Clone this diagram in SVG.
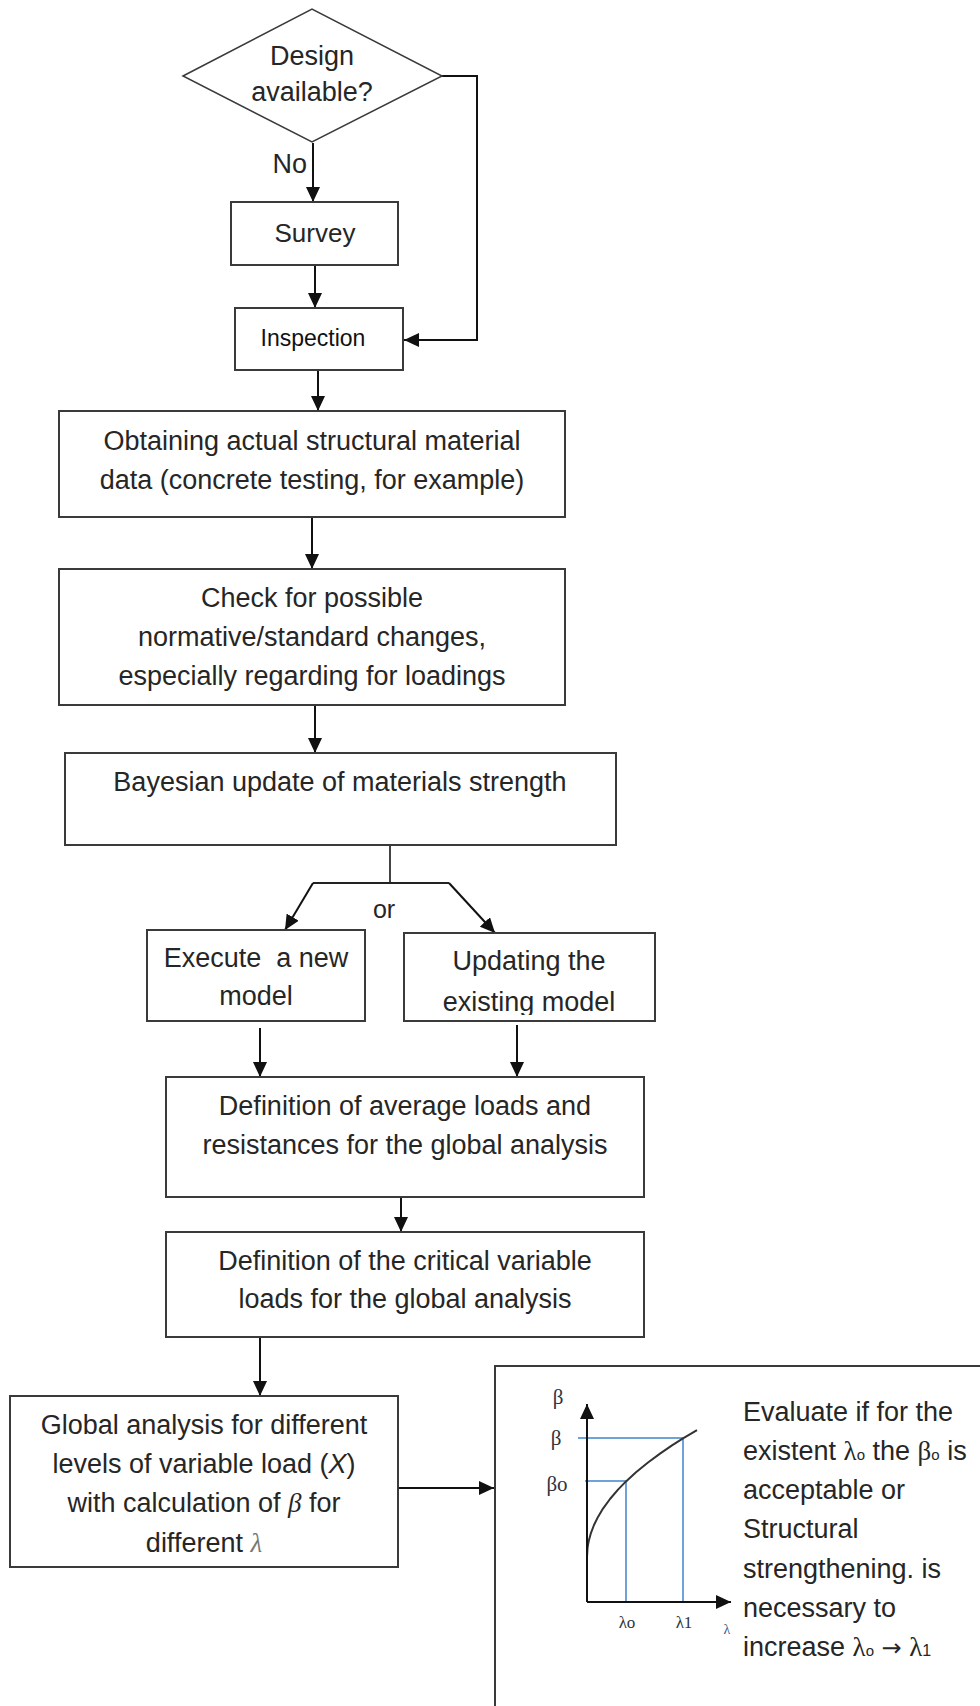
<svg xmlns="http://www.w3.org/2000/svg" width="980" height="1706" viewBox="0 0 980 1706">
<style>
.box{fill:#fff;stroke:#3a3a3a;stroke-width:2}
.con{fill:none;stroke:#111;stroke-width:2}
.blue{fill:none;stroke:#6fa3d8;stroke-width:2}
.t{font-family:"Liberation Sans",Arial,sans-serif;font-size:27px;fill:#262626;text-anchor:middle}
.tl{font-family:"Liberation Sans",Arial,sans-serif;font-size:27px;fill:#262626}
.g{font-family:"Liberation Serif","Times New Roman",serif}
.lab{font-family:"Liberation Serif","Times New Roman",serif;font-size:17px;fill:#2e3440;text-anchor:middle}
</style>
<defs>
<marker id="ah" markerUnits="userSpaceOnUse" markerWidth="16" markerHeight="14" refX="15" refY="7" orient="auto">
<path d="M0,0 L15,7 L0,14 z" fill="#111"/>
</marker>
<clipPath id="clipUpd"><rect x="404" y="933" width="251" height="82"/></clipPath>
</defs>
<rect width="980" height="1706" fill="#fff"/>

<g id="connectors">
<path class="con" d="M313,143 V202" marker-end="url(#ah)"/>
<path class="con" d="M442,76 H477 V340 H404" marker-end="url(#ah)"/>
<path class="con" d="M315,265 V308" marker-end="url(#ah)"/>
<path class="con" d="M318,370 V411" marker-end="url(#ah)"/>
<path class="con" d="M312,517 V569" marker-end="url(#ah)"/>
<path class="con" d="M315,705 V753" marker-end="url(#ah)"/>
<path class="con" style="stroke:#444" d="M390,845 V883"/>
<path class="con" style="stroke:#222" d="M449,883 H313"/>
<path class="con" d="M313,883 L285,930" marker-end="url(#ah)"/>
<path class="con" d="M449,883 L495,933" marker-end="url(#ah)"/>
<path class="con" d="M260,1028 V1077" marker-end="url(#ah)"/>
<path class="con" d="M517,1025 V1077" marker-end="url(#ah)"/>
<path class="con" d="M401,1197 V1232" marker-end="url(#ah)"/>
<path class="con" d="M260,1337 V1396" marker-end="url(#ah)"/>
<path class="con" d="M398,1488 H494" marker-end="url(#ah)"/>
</g>

<g id="n-design">
<polygon points="183,76 312,9 442,76 312,142" fill="#fff" stroke="#3a3a3a" stroke-width="1.5"/>
<text class="t" x="312" y="65" font-size="23">Design</text>
<text class="t" x="312" y="101" font-size="23">available?</text>
<text class="t" x="307" y="173" font-size="23" text-anchor="end" style="text-anchor:end">No</text>
</g>

<g id="n-survey">
<rect class="box" x="231" y="202" width="167" height="63"/>
<text class="t" x="315" y="242" style="font-size:26px">Survey</text>
</g>

<g id="n-inspection">
<rect class="box" x="235" y="308" width="168" height="62"/>
<text class="t" x="313" y="346" style="font-size:23px;fill:#111">Inspection</text>
</g>

<g id="n-obtaining">
<rect class="box" x="59" y="411" width="506" height="106"/>
<text class="t" x="312" y="450">Obtaining actual structural material</text>
<text class="t" x="312" y="489">data (concrete testing, for example)</text>
</g>

<g id="n-check">
<rect class="box" x="59" y="569" width="506" height="136"/>
<text class="t" x="312" y="607">Check for possible</text>
<text class="t" x="312" y="646">normative/standard changes,</text>
<text class="t" x="312" y="685">especially regarding for loadings</text>
</g>

<g id="n-bayesian">
<rect class="box" x="65" y="753" width="551" height="92"/>
<text class="t" x="340" y="791">Bayesian update of materials strength</text>
</g>

<g id="n-or">
<text class="t" x="384" y="918" style="font-size:25px">or</text>
</g>

<g id="n-execute">
<rect class="box" x="147" y="930" width="218" height="91"/>
<text class="t" x="256" y="967" xml:space="preserve">Execute  a new</text>
<text class="t" x="256" y="1005">model</text>
</g>

<g id="n-updating">
<rect class="box" x="404" y="933" width="251" height="88"/>
<g clip-path="url(#clipUpd)">
<text class="t" x="529" y="970">Updating the</text>
<text class="t" x="529" y="1011">existing model</text>
</g>
</g>

<g id="n-def-avg">
<rect class="box" x="166" y="1077" width="478" height="120"/>
<text class="t" x="405" y="1115">Definition of average loads and</text>
<text class="t" x="405" y="1154">resistances for the global analysis</text>
</g>

<g id="n-def-crit">
<rect class="box" x="166" y="1232" width="478" height="105"/>
<text class="t" x="405" y="1270">Definition of the critical variable</text>
<text class="t" x="405" y="1308">loads for the global analysis</text>
</g>

<g id="n-global">
<rect class="box" x="10" y="1396" width="388" height="171"/>
<text class="t" x="204" y="1434">Global analysis for different</text>
<text class="t" x="204" y="1473">levels of variable load (<tspan font-style="italic">X</tspan>)</text>
<text class="t" x="204" y="1512">with calculation of <tspan font-style="italic" class="g">β</tspan> for</text>
<text class="t" x="204" y="1552">different <tspan class="g" font-style="italic" fill="#777">λ</tspan></text>
</g>

<g id="n-evaluate">
<rect class="box" x="495" y="1366" width="600" height="420"/>
<path class="blue" d="M578,1438 H683 V1602"/>
<path class="blue" d="M585,1481 H626 V1602"/>
<polyline points="587,1557 587.5,1548.4 588,1544.9 589,1539.9 591,1532.8 594,1525 598,1516.9 603,1508.6 610,1499 618,1489.6 626,1481.4 636,1472.3 648,1462.5 660,1453.6 672,1445.4 683,1438.4 697,1430.1" fill="none" stroke="#333" stroke-width="2" stroke-linejoin="round"/>
<path class="con" d="M587,1602 V1404" marker-end="url(#ah)"/>
<path class="con" d="M587,1602 H731" marker-end="url(#ah)"/>
<text class="lab" x="558" y="1404" style="font-size:21px">β</text>
<text class="lab" x="556" y="1445" style="font-size:21px">β</text>
<text class="lab" x="557" y="1491" style="font-size:21px">βo</text>
<text class="lab" x="627" y="1628">λo</text>
<text class="lab" x="684" y="1628">λ1</text>
<text class="lab" x="727" y="1634" style="font-size:14px;fill:#3a5a8a">λ</text>
<text class="tl" x="743" y="1421">Evaluate if for the</text>
<text class="tl" x="743" y="1460">existent <tspan class="g">λ</tspan><tspan font-size="15">o</tspan> the <tspan class="g">β</tspan><tspan font-size="15">o</tspan> is</text>
<text class="tl" x="743" y="1499">acceptable or</text>
<text class="tl" x="743" y="1538">Structural</text>
<text class="tl" x="743" y="1578">strengthening. is</text>
<text class="tl" x="743" y="1617">necessary to</text>
<text class="tl" x="743" y="1656">increase <tspan class="g">λ</tspan><tspan font-size="15">o</tspan> <tspan font-family="DejaVu Sans" font-size="24">→</tspan> <tspan class="g">λ</tspan><tspan font-size="16">1</tspan></text>
</g>
</svg>
